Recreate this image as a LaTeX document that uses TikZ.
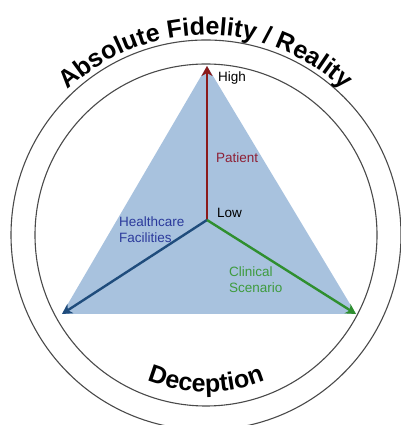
\documentclass[tikz,border=0pt]{standalone}
\usepackage{fontspec}
\setmainfont{Liberation Sans}
\usetikzlibrary{arrows.meta,decorations.text}

\definecolor{fillblue}{HTML}{A8C2DE}
\definecolor{axisred}{HTML}{8B1A1A}
\definecolor{axisblue}{HTML}{1F4C7C}
\definecolor{axisgreen}{HTML}{2F8F2F}
\definecolor{txtred}{HTML}{8E2035}
\definecolor{txtblue}{HTML}{2B3A9C}
\definecolor{txtgreen}{HTML}{3E9B3E}
\definecolor{ringgray}{HTML}{4A4A4A}

\begin{document}
\begin{tikzpicture}[x=1pt,y=1pt,
  ring/.style={draw=ringgray,line width=1.1pt},
  axisline/.style={line width=2.4pt,-{Stealth[length=10pt,width=11pt,inset=3pt]}},
  lbl/.style={font=\fontsize{13.5}{16}\selectfont,inner sep=0pt,anchor=north west,align=left},
  ringtext/.style={decorate,decoration={text along path,text align=center,
      text={|\fontsize{25}{30}\selectfont\bfseries|#1}}}
]
\useasboundingbox (0,0) rectangle (400,425);

% centre of the rings and the three axis end points
\coordinate (C) at (206,190);
\coordinate (apex) at (207,359);
\coordinate (left) at (62,111);
\coordinate (right) at (356,111);
\coordinate (low) at (207,205);

% shaded fidelity triangle
\fill[fillblue] (apex) -- (left) -- (right) -- cycle;

% the two rings
\draw[ring] (C) circle[radius=171];
\draw[ring] (C) circle[radius=195];

% curved titles
\path[ringtext={Absolute Fidelity / Reality}]
  (C) ++(150:200) arc[start angle=150,end angle=30,radius=200];
\path[ringtext={Deception}]
  (C) ++(238:157) arc[start angle=238,end angle=302,radius=157];

% axes
\draw[axisline,axisred,line width=2.8pt] (low) -- (apex);
\draw[axisline,axisblue] (low) -- (left);
\draw[axisline,axisgreen] (low) -- (right);

% labels
\node[lbl] (high) at (218,353) {High};
\node[lbl] (low label) at (217,217) {Low};
\node[lbl,text=txtred] (patient) at (216,272) {Patient};
\node[lbl,text=txtblue] (facilities) at (119,208) {Healthcare\\Facilities};
\node[lbl,text=txtgreen] (scenario) at (229,158) {Clinical\\Scenario};
\end{tikzpicture}
\end{document}
